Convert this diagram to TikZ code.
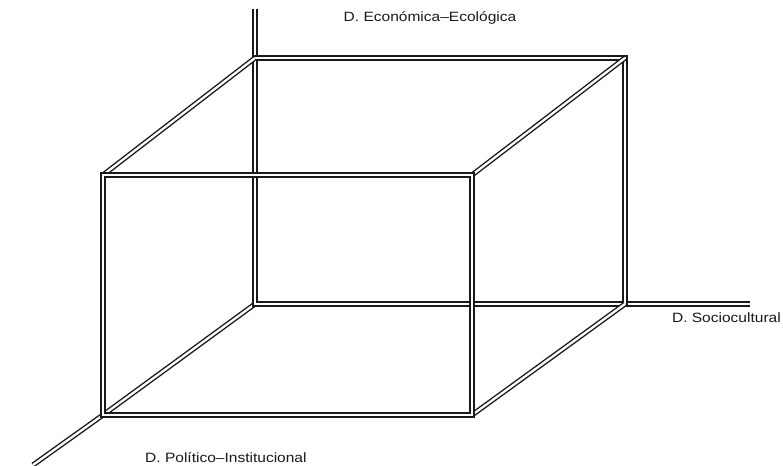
\documentclass[tikz,border=0pt]{standalone}
\usepackage{fontspec}
\setmainfont{Liberation Sans}
\begin{document}
\begin{tikzpicture}[x=1pt,y=-1pt,
  edge/.style={draw=black!90, line width=1.4pt, double=white, double distance=2.3pt, line join=miter},
  lbl/.style={font=\fontsize{13.5}{16}\selectfont, xscale=1.15, text=black!90, inner sep=0pt}]
\useasboundingbox[fill=white] (0,0) rectangle (783,465);
% back face corners
\coordinate (btl) at (255,58);
\coordinate (btr) at (625,58);
\coordinate (bbr) at (625,304);
\coordinate (bbl) at (255,304);
% front face corners
\coordinate (ftl) at (103,175);
\coordinate (ftr) at (472,175);
\coordinate (fbr) at (472,415);
\coordinate (fbl) at (103,415);
% axis ends
\coordinate (zend) at (255,9);
\coordinate (xend) at (750,304);
\coordinate (yend) at (33,465);
% axes
\draw[edge] (bbl) -- (zend);
\draw[edge] (bbl) -- (xend);
\draw[edge] (bbl) -- (fbl) -- (yend);
% back face
\draw[edge] (btl) -- (btr) -- (bbr) -- (bbl) -- cycle;
% connecting edges
\draw[edge] (btl) -- (ftl);
\draw[edge] (btr) -- (ftr);
\draw[edge] (bbr) -- (fbr);
% front face
\draw[edge] (ftl) -- (ftr) -- (fbr) -- (fbl) -- cycle;
% labels
\node[lbl] (lz) at (430,18) {D. Económica–Ecológica};
\node[lbl, anchor=east] (lx) at (781,318) {D. Sociocultural};
\node[lbl, anchor=west] (ly) at (145,458) {D. Político–Institucional};
\end{tikzpicture}
\end{document}
